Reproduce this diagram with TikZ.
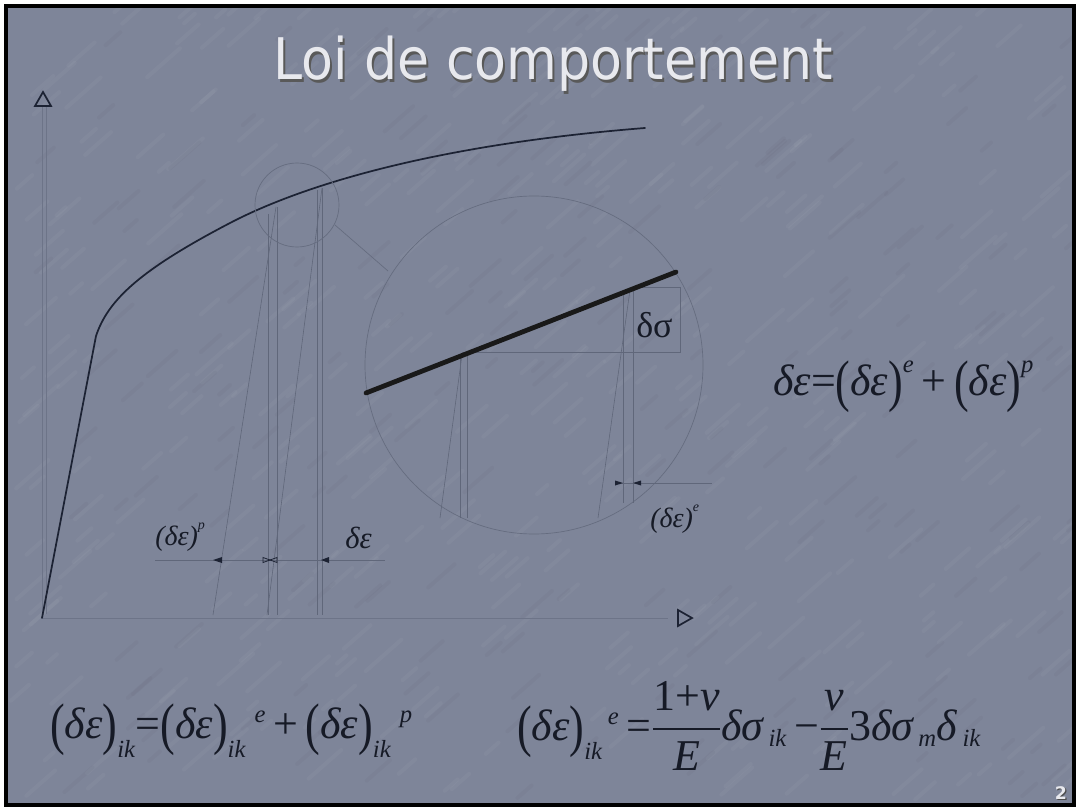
\RequirePackage{fix-cm}
\documentclass[tikz,border=0pt]{standalone}
\usepackage{amsmath}
\usepackage{graphicx}
\usepackage{fontspec}
\newfontfamily\tms{Liberation Serif}
\newfontfamily\tah{DejaVu Sans}
\definecolor{slidebg}{RGB}{126,133,153}
\definecolor{titlecol}{RGB}{232,233,238}
\definecolor{curvecol}{RGB}{28,34,51}
\definecolor{faintcol}{RGB}{96,103,122}
\definecolor{labcol}{RGB}{22,26,38}
\newcommand{\I}[1]{\text{\tms\itshape #1}}
\newcommand{\Is}[1]{\text{\tms\itshape\scalebox{0.8}{#1}}}
\newcommand{\U}[1]{\text{\tms\upshape #1}}
\newcommand{\LP}{\text{\tms\upshape\raisebox{-0.12em}{\scalebox{1}[1.3]{(}}}}
\newcommand{\RP}{\text{\tms\upshape\raisebox{-0.12em}{\scalebox{1}[1.3]{)}}}}
\tikzset{
  curve/.style={line width=1.3pt, color=curvecol, line cap=round},
  faint/.style={line width=0.45pt, color=faintcol},
  axisline/.style={line width=0.5pt, color=faintcol!55!slidebg},
  faintcirc/.style={line width=0.5pt, color=faintcol!85!slidebg},
  boldline/.style={line width=3.6pt, color=black!90, line cap=round},
  axtri/.style={line width=1.3pt, color=curvecol, line join=miter},
  dimtip/.style={fill=curvecol},
  formula/.style={inner sep=0pt, text=labcol, font=\fontsize{33}{38}\selectfont},
  lab/.style={inner sep=0pt, text=labcol, font=\tms\itshape\fontsize{21}{24}\selectfont},
  streak/.style={line width=3pt, line cap=round},
}
\begin{document}
\begin{tikzpicture}[x=0.75pt, y=-0.75pt]
\useasboundingbox (0,0) rectangle (1078,809);
\fill[white] (0,0) rectangle (1078,809);
\fill[slidebg] (6,6) rectangle (1074,805);

% subtle texture of the slide background
\begin{scope}
\clip (6,6) rectangle (1074,805);
\pgfmathsetseed{11}
\foreach \i in {1,...,420} {
  \pgfmathsetmacro{\xx}{10+1060*rnd}
  \pgfmathsetmacro{\yy}{10+790*rnd}
  \pgfmathsetmacro{\ll}{12+36*rnd}
  \draw[streak, white, opacity=0.035] (\xx,\yy) -- ++(0.75*\ll,-0.66*\ll);
}
\foreach \i in {1,...,200} {
  \pgfmathsetmacro{\xx}{10+1060*rnd}
  \pgfmathsetmacro{\yy}{10+790*rnd}
  \pgfmathsetmacro{\ll}{10+30*rnd}
  \draw[streak, black, opacity=0.025] (\xx,\yy) -- ++(0.75*\ll,-0.66*\ll);
}
\end{scope}
\draw[black, line width=2.4pt] (6,6) rectangle (1074,805);

% title (with its shadow in the same node)
\node[inner sep=0pt, anchor=base, text=titlecol, font=\tah\fontsize{43}{50}\selectfont] (title) at (553,80)
  {\scalebox{0.91}[1]{\makebox[0pt][l]{\hspace{1.6pt}\raisebox{-1.6pt}{\textcolor{black!65}{Loi de comportement}}}Loi de comportement}};

% axes
\draw[axisline] (42,106) -- (42,618) -- (668,618);
\draw[axisline] (46,106) -- (46,614);
\draw[axtri] (35,106) -- (51,106) -- (43,92) -- cycle;
\draw[axtri] (678,610) -- (678,626) -- (692,618) -- cycle;

% construction lines under small circle
\draw[faint] (268,214) -- (268,615);
\draw[faint] (277,207) -- (277,615);
\draw[faint] (317,190) -- (317,615);
\draw[faint] (322,188) -- (322,615);
\draw[faint] (276,207) -- (213,615);
\draw[faint] (322,188) -- (267,615);

% dimension line bottom left
\draw[faint] (155,560) -- (385,560);
\fill[dimtip] (213,560) -- (222,557) -- (222,563) -- cycle;
\draw[curvecol, line width=0.6pt] (270,560) -- (263,557.5) -- (263,562.5) -- cycle;
\draw[curvecol, line width=0.6pt] (270,560) -- (277,557.5) -- (277,562.5) -- cycle;
\fill[dimtip] (321,560) -- (329,557) -- (329,563) -- cycle;

% main curve
\draw[curve] (42,618) -- (96,336) .. controls (108,300) and (140,270) .. (230,223)
  .. controls (300,186.5) and (430,145) .. (645,128);

% circles
\draw[faintcirc] (297,205) circle[radius=42];
\draw[faintcirc] (534,365) circle[radius=169];
\draw[faintcirc] (335,225) -- (388,271);

% inside big circle
\draw[faint] (460,356) -- (460,518);
\draw[faint] (467,354) -- (467,518);
\draw[faint] (462,355) -- (440,518);
\draw[faint] (623,293) -- (623,503);
\draw[faint] (633,289) -- (633,503);
\draw[faint] (630,290) -- (598,518);
\draw[faint] (462,352) -- (680,352) -- (680,287) -- (633,287);
\draw[boldline] (366,393) -- (676,272);

% dimension e
\draw[faint] (615,483) -- (712,483);
\fill[dimtip] (623,483) -- (615,480.5) -- (615,485.5) -- cycle;
\fill[dimtip] (633,483) -- (641,480.5) -- (641,485.5) -- cycle;

% labels
\node[lab, anchor=base west] (lp) at (155,545) {(δε)\raisebox{0.55em}{\scalebox{0.5}{\itshape p}}};
\node[lab, anchor=base west, font=\tms\itshape\fontsize{23}{26}\selectfont] (lde) at (345,548) {δε};
\node[lab, anchor=base west, font=\tms\upshape\fontsize{27}{30}\selectfont] (lds) at (636,338) {δσ};
\node[lab, anchor=base west] (le) at (650,527) {(δε)\raisebox{0.55em}{\scalebox{0.5}{\itshape e}}};

% formulas
\node[formula, anchor=base west] (f1) at (773,395)
  {$\I{δε}\U{=}\LP\I{δε}\RP^{\Is{e}}\,\U{+}\,\LP\I{δε}\RP^{\Is{p}}$};
\node[formula, anchor=base west] (f2) at (50,738)
  {$\LP\I{δε}\RP_{\Is{ik}}\U{=}\LP\I{δε}\RP_{\Is{ik}}{}^{\;\Is{e}}\,\U{+}\,\LP\I{δε}\RP_{\Is{ik}}{}^{\;\Is{p}}$};
\node[formula, anchor=base west] (f3) at (517,740)
  {$\LP\I{δε}\RP_{\Is{ik}}{}^{\,\Is{e}}\,\U{=}\dfrac{\U{1+}\I{ν}}{\I{E}}\I{δσ}_{\,\Is{ik}}\,\U{−}\dfrac{\I{ν}}{\I{E}}\U{3}\I{δσ}_{\,\Is{m}}\I{δ}_{\,\Is{ik}}$};

% page number (with its shadow in the same node)
\node[inner sep=0pt, text=titlecol, font=\tah\bfseries\fontsize{13}{15}\selectfont] (pn) at (1061,794)
  {\makebox[0pt][l]{\hspace{0.8pt}\raisebox{-0.8pt}{\textcolor{black!70}{2}}}2};
\end{tikzpicture}
\end{document}
